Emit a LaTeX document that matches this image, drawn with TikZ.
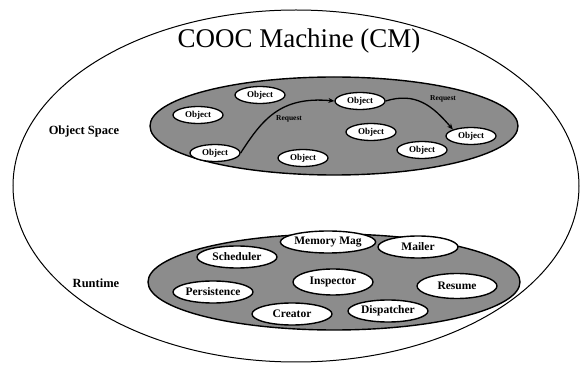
\documentclass[tikz,border=0pt]{standalone}
\usepackage{fontspec}
\setmainfont{Liberation Serif}
\usetikzlibrary{shapes.geometric,arrows.meta}
\begin{document}
\begin{tikzpicture}[x=1pt,y=-1pt,
  region/.style={draw=black,line width=1.4pt,fill=black!45},
  obj/.style={ellipse,draw=black,line width=1.3pt,fill=white,inner sep=0pt,
    minimum width=50pt,minimum height=17pt,font=\fontsize{9}{9}\selectfont\bfseries},
  rt/.style={ellipse,draw=black,line width=1.4pt,fill=white,inner sep=0pt,
    minimum width=80pt,minimum height=22pt,font=\fontsize{11.5}{11.5}\selectfont\bfseries},
  lbl/.style={font=\fontsize{12.5}{12.5}\selectfont\bfseries},
  req/.style={font=\fontsize{7.5}{7.5}\selectfont\bfseries,inner sep=0pt},
  conn/.style={line width=1.3pt,-{Stealth[length=6pt,width=5pt]}}]
\useasboundingbox (0,0) rectangle (587,366);
% outer machine
\draw[line width=1pt] (296,186) ellipse [x radius=283,y radius=176];
\node (title) at (299,41) {\fontsize{27}{27}\selectfont COOC Machine (CM)};
% regions
\draw[region] (334,126) ellipse [x radius=184,y radius=49];
\draw[region] (334,282) ellipse [x radius=186,y radius=48];
\node[lbl] (osl) at (84,131) {Object Space};
\node[lbl] (rtl) at (96,283) {Runtime};
% objects
\node[obj] (o1) at (198,115) {Object};
\node[obj] (o2) at (260,95) {Object};
\node[obj] (o3) at (215,153) {Object};
\node[obj] (o4) at (303,158) {Object};
\node[obj] (o5) at (360,101) {Object};
\node[obj] (o6) at (371,132) {Object};
\node[obj] (o7) at (422,150) {Object};
\node[obj] (o8) at (471,136) {Object};
% requests
\draw[conn] (o3.east) .. controls (262,120) and (280,96) .. (o5.west);
\draw[conn] (o5.east) .. controls (415,92) and (432,105) .. (o8.north west);
\node[req] (r1) at (289,119) {Request};
\node[req] (r2) at (443,99) {Request};
% runtime components
\node[rt] (sch) at (237,257) {Scheduler};
\node[rt] (mem) at (328,242) {Memory Mag};
\node[rt] (mai) at (418,247) {Mailer};
\node[rt] (per) at (213,292) {Persistence};
\node[rt,minimum height=26pt] (ins) at (333,282) {Inspector};
\node[rt,minimum height=25pt] (res) at (457,286) {Resume};
\node[rt] (cre) at (292,314) {Creator};
\node[rt] (dis) at (388,311) {Dispatcher};
\end{tikzpicture}
\end{document}
